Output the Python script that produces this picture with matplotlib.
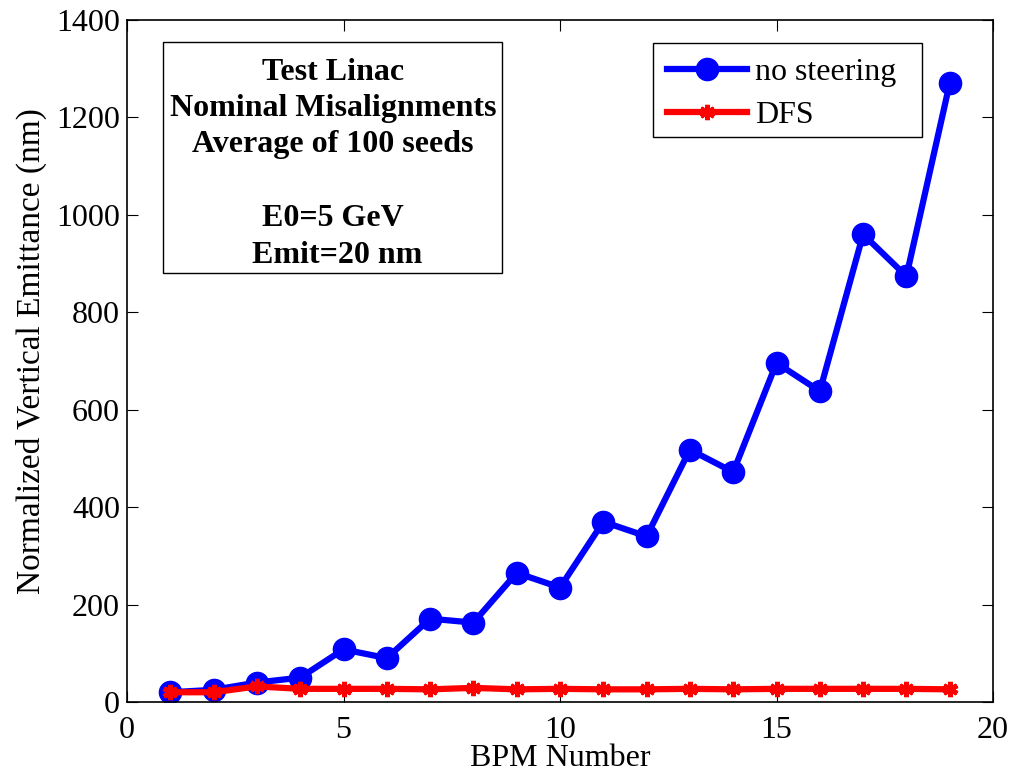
import matplotlib
matplotlib.use("Agg")
import matplotlib.pyplot as plt
from matplotlib.patches import Rectangle

bpm = list(range(1, 20))
no_steering = [20, 25, 40, 50, 108, 90, 171, 163, 265, 235, 370, 340, 518, 472, 696, 638, 960, 874, 1270]
dfs = [20, 20, 32, 27, 27, 27, 26, 29, 26, 27, 26, 26, 27, 26, 27, 27, 27, 27, 26]
info_lines = ['Test Linac', 'Nominal Misalignments', 'Average of 100 seeds', '', 'E0=5 GeV', ' Emit=20 nm']

plt.rcParams['font.family'] = ['Liberation Serif', 'DejaVu Serif']
W, H = 1018, 779
fig = plt.figure(figsize=(W / 100, H / 100), dpi=100)
L, R, T, B = 127, 993, 20, 702
ax = fig.add_axes([L / W, 1 - B / H, (R - L) / W, (B - T) / H])

def fx(px):
    return (px - L) / (R - L)

def fy(py):
    return (B - py) / (B - T)

ax.plot(bpm, no_steering, color='#0000ff', lw=4.5, marker='o', ms=16, label='no steering')
ax.plot(bpm, dfs, color='#ff0000', lw=4.5, marker=(6, 2, 0), ms=11, mew=3.5, mec='#ff0000', label='DFS')

ax.set_xlim(0, 20)
ax.set_ylim(0, 1400)
ax.set_xticks([0, 5, 10, 15, 20])
ax.set_yticks(range(0, 1401, 200))
ax.tick_params(direction='in', top=True, right=True, labelsize=23, length=8, width=0.8)
ax.tick_params(axis='x', pad=10)
ax.tick_params(axis='y', pad=5)
for s in ax.spines.values():
    s.set_linewidth(1.2)
ax.set_xlabel('BPM Number', fontsize=23, labelpad=-1)
ax.set_ylabel('Normalized Vertical Emittance (nm)', fontsize=24)
ax.yaxis.set_label_coords(fx(47), 0.515)

ax.add_patch(Rectangle((fx(653), fy(137)), fx(922) - fx(653), fy(43) - fy(137), transform=ax.transAxes,
                       facecolor='white', edgecolor='black', linewidth=1.0, zorder=4.5))
leg = ax.legend(loc='upper left', bbox_to_anchor=(fx(653), fy(43)), fontsize=23, frameon=False,
                handlelength=2.5, handletextpad=0.25,
                borderpad=0.45, labelspacing=0.45, borderaxespad=0)
leg.set_zorder(5)

ax.add_patch(Rectangle((fx(163), fy(273)), fx(502) - fx(163), fy(42) - fy(273), transform=ax.transAxes,
                       facecolor='white', edgecolor='black', linewidth=1.0, zorder=4))
baselines = [80, 116, 152, 189, 226, 263]
for txt, by in zip(info_lines, baselines):
    if txt:
        ax.text(fx(333), fy(by), txt, transform=ax.transAxes, ha='center', va='baseline',
                fontsize=23, fontweight='bold', zorder=5)

fig.savefig('out.png', dpi=100)
